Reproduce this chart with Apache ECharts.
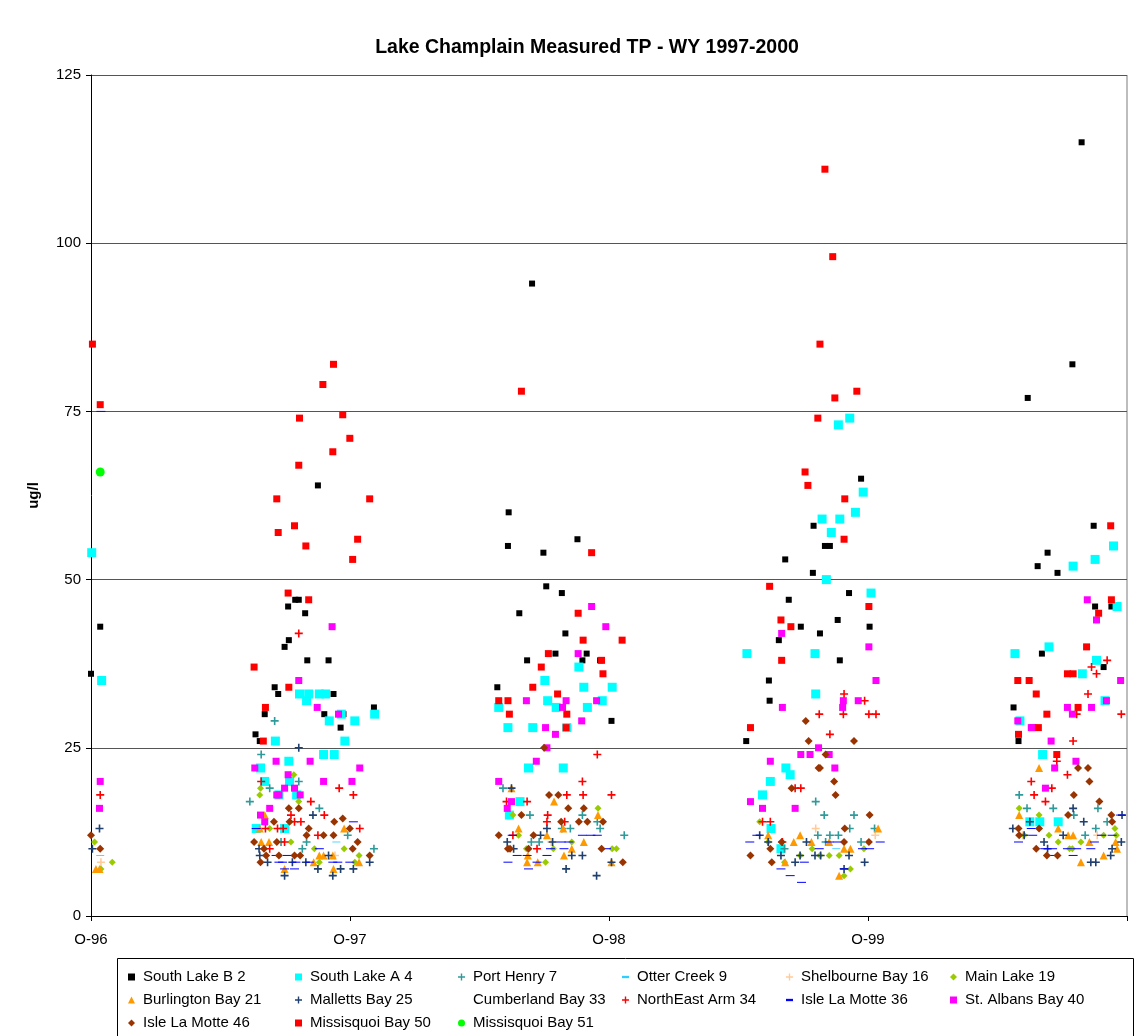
<!DOCTYPE html>
<html>
<head>
<meta charset="utf-8">
<script src="https://cdn.jsdelivr.net/npm/echarts@6/dist/echarts.min.js"></script>
<style>
  html, body { margin: 0; padding: 0; background: #fff; }
  #chart { width: 1146px; height: 1036px; }
</style>
</head>
<body>
<div id="chart"></div>
<script>
// Total phosphorus (ug/l) by sampling date and station, water years 1997-2000
const yTicks = [0, 25, 50, 75, 100, 125];
const xTickLabels = ['O-96', 'O-97', 'O-98', 'O-99'];

const southLakeB2 = [
  ['1996-10-01', 36], ['1996-10-14', 43],
  ['1997-05-21', 27], ['1997-05-27', 26], ['1997-06-03', 30], ['1997-06-17', 34], ['1997-06-22', 33],
  ['1997-07-01', 40], ['1997-07-06', 46], ['1997-07-07', 41], ['1997-07-16', 47], ['1997-07-21', 47],
  ['1997-07-30', 45], ['1997-08-02', 38], ['1997-08-17', 64], ['1997-08-26', 30], ['1997-09-01', 38],
  ['1997-09-08', 33], ['1997-09-18', 28], ['1997-09-22', 30], ['1997-11-04', 31],
  ['1998-04-27', 34], ['1998-05-12', 55], ['1998-05-13', 60], ['1998-05-28', 45], ['1998-06-08', 38],
  ['1998-06-15', 94], ['1998-07-01', 54], ['1998-07-05', 49], ['1998-07-18', 39], ['1998-07-27', 48],
  ['1998-08-01', 42], ['1998-08-18', 56], ['1998-08-25', 38], ['1998-08-31', 39], ['1998-09-19', 38],
  ['1998-10-05', 29],
  ['1999-04-13', 26], ['1999-05-15', 35], ['1999-05-16', 32], ['1999-05-29', 41], ['1999-06-07', 53],
  ['1999-06-12', 47], ['1999-06-29', 43], ['1999-07-16', 51], ['1999-07-17', 58], ['1999-07-26', 42],
  ['1999-08-02', 55], ['1999-08-09', 55], ['1999-08-20', 44], ['1999-08-23', 38], ['1999-09-05', 48],
  ['1999-09-22', 65], ['1999-10-04', 43],
  ['2000-04-24', 31], ['2000-05-01', 26], ['2000-05-14', 77], ['2000-05-28', 52], ['2000-06-03', 39],
  ['2000-06-11', 54], ['2000-06-25', 51], ['2000-07-16', 82], ['2000-07-29', 115], ['2000-08-15', 58],
  ['2000-08-17', 46], ['2000-08-29', 37], ['2000-09-09', 46]
];

const southLakeA4 = [
  ['1996-10-02', 54], ['1996-10-16', 35],
  ['1997-05-22', 13], ['1997-05-28', 22], ['1997-06-03', 20], ['1997-06-18', 26], ['1997-06-23', 18],
  ['1997-07-01', 13], ['1997-07-07', 23], ['1997-07-08', 20], ['1997-07-18', 18], ['1997-07-22', 33],
  ['1997-08-01', 32], ['1997-08-04', 33], ['1997-08-19', 33], ['1997-08-25', 24], ['1997-08-28', 33],
  ['1997-09-02', 29], ['1997-09-09', 24], ['1997-09-19', 30], ['1997-09-24', 26], ['1997-10-08', 29],
  ['1997-11-05', 30],
  ['1998-04-29', 31], ['1998-05-12', 28], ['1998-05-14', 15], ['1998-05-29', 17], ['1998-06-10', 22],
  ['1998-06-16', 28], ['1998-07-03', 35], ['1998-07-07', 32], ['1998-07-19', 31], ['1998-07-29', 22],
  ['1998-08-03', 28], ['1998-08-20', 37], ['1998-08-27', 34], ['1998-09-01', 31], ['1998-09-22', 32],
  ['1998-10-06', 34],
  ['1999-04-14', 39], ['1999-05-06', 18], ['1999-05-17', 20], ['1999-05-18', 13], ['1999-06-01', 10],
  ['1999-06-08', 22], ['1999-06-14', 21], ['1999-07-19', 39], ['1999-07-20', 33], ['1999-07-29', 59],
  ['1999-08-04', 50], ['1999-08-11', 57], ['1999-08-21', 73], ['1999-08-23', 59], ['1999-09-06', 74],
  ['1999-09-14', 60], ['1999-09-25', 63], ['1999-10-06', 48],
  ['2000-04-26', 39], ['2000-05-03', 29], ['2000-05-17', 14], ['2000-05-31', 14], ['2000-06-04', 24],
  ['2000-06-13', 40], ['2000-06-26', 14], ['2000-07-17', 52], ['2000-07-30', 36], ['2000-08-17', 53],
  ['2000-08-19', 38], ['2000-08-31', 32], ['2000-09-12', 55], ['2000-09-17', 46]
];

const portHenry7 = [
  ['1997-05-13', 17], ['1997-05-29', 24], ['1997-06-10', 19], ['1997-06-17', 29], ['1997-06-26', 11],
  ['1997-07-21', 20], ['1997-07-26', 10], ['1997-08-01', 11], ['1997-08-19', 16], ['1997-09-28', 12],
  ['1997-11-04', 10],
  ['1998-05-05', 19], ['1998-06-12', 15], ['1998-06-14', 11], ['1998-06-25', 11], ['1998-07-27', 13],
  ['1998-08-08', 13], ['1998-08-25', 15], ['1998-09-15', 14], ['1998-09-19', 13], ['1998-10-23', 12],
  ['1999-06-06', 10], ['1999-07-20', 17], ['1999-07-23', 12], ['1999-08-01', 15], ['1999-08-03', 11],
  ['1999-08-09', 12], ['1999-08-21', 12], ['1999-09-06', 13], ['1999-09-12', 15], ['1999-09-22', 11],
  ['1999-10-11', 13],
  ['2000-05-02', 18], ['2000-05-13', 16], ['2000-06-19', 16], ['2000-07-18', 15], ['2000-08-03', 12],
  ['2000-08-18', 13], ['2000-08-21', 16], ['2000-09-03', 14]
];

const otterCreek9 = [
  ['1996-10-14', 9], ['1997-09-12', 11], ['1999-08-18', 10]
];

const shelbourneBay16 = [
  ['1996-10-15', 8], ['1997-09-10', 9], ['1998-07-12', 11], ['1999-07-20', 13], ['1999-10-12', 12],
  ['2000-05-07', 12], ['2000-08-20', 12]
];

const mainLake19 = [
  ['1996-10-06', 11], ['1996-10-15', 7], ['1996-10-31', 8],
  ['1997-05-27', 18], ['1997-05-28', 19], ['1997-06-10', 13], ['1997-07-10', 11], ['1997-07-14', 21],
  ['1997-07-21', 17], ['1997-08-12', 10], ['1997-08-19', 8], ['1997-09-23', 10], ['1997-10-08', 8],
  ['1997-10-14', 9],
  ['1998-05-19', 15], ['1998-05-27', 12], ['1998-06-07', 10], ['1998-07-04', 8], ['1998-07-15', 10],
  ['1998-08-10', 11], ['1998-09-16', 16], ['1998-10-06', 10], ['1998-10-12', 10],
  ['1999-05-02', 14], ['1999-05-14', 11], ['1999-06-06', 8], ['1999-06-28', 9], ['1999-07-15', 10],
  ['1999-07-26', 9], ['1999-08-08', 9], ['1999-08-22', 9], ['1999-08-29', 6], ['1999-09-07', 7],
  ['1999-09-26', 10],
  ['2000-05-02', 16], ['2000-05-09', 12], ['2000-05-30', 15], ['2000-06-13', 12], ['2000-06-26', 11],
  ['2000-07-12', 10], ['2000-07-16', 10], ['2000-07-28', 11], ['2000-08-29', 12], ['2000-09-14', 13],
  ['2000-09-16', 12]
];

const burlingtonBay21 = [
  ['1996-10-08', 7], ['1996-10-13', 7],
  ['1997-05-27', 13], ['1997-05-29', 11], ['1997-06-03', 15], ['1997-06-09', 11], ['1997-07-01', 7],
  ['1997-08-11', 8], ['1997-08-19', 9], ['1997-08-25', 9], ['1997-09-07', 9], ['1997-09-08', 7],
  ['1997-09-23', 13], ['1997-10-14', 8],
  ['1998-05-17', 19], ['1998-05-27', 13], ['1998-06-08', 8], ['1998-06-09', 9], ['1998-06-23', 8],
  ['1998-07-06', 12], ['1998-07-16', 17], ['1998-07-29', 13], ['1998-07-30', 9], ['1998-08-10', 10],
  ['1998-08-27', 11], ['1998-09-16', 15], ['1998-10-05', 8],
  ['1999-05-14', 12], ['1999-06-07', 8], ['1999-06-19', 11], ['1999-06-28', 12], ['1999-07-14', 11],
  ['1999-08-08', 11], ['1999-08-22', 6], ['1999-08-29', 10], ['1999-09-07', 10], ['1999-10-16', 13],
  ['2000-05-02', 15], ['2000-05-30', 22], ['2000-06-26', 13], ['2000-07-10', 12], ['2000-07-17', 12],
  ['2000-07-28', 8], ['2000-08-09', 11], ['2000-08-29', 9], ['2000-09-15', 11], ['2000-09-17', 10]
];

const mallettsBay25 = [
  ['1996-10-03', 10], ['1996-10-13', 13],
  ['1997-05-26', 10], ['1997-05-27', 9], ['1997-06-07', 8], ['1997-07-01', 6], ['1997-07-12', 8],
  ['1997-07-21', 25], ['1997-07-31', 8], ['1997-08-10', 15], ['1997-08-17', 7], ['1997-09-01', 9],
  ['1997-09-07', 6], ['1997-09-18', 7], ['1997-10-06', 7], ['1997-10-29', 8],
  ['1998-05-11', 11], ['1998-05-17', 19], ['1998-05-20', 10], ['1998-06-27', 12], ['1998-07-06', 13],
  ['1998-07-14', 11], ['1998-08-02', 7], ['1998-08-10', 9], ['1998-08-25', 9], ['1998-09-14', 6],
  ['1998-10-05', 8],
  ['1999-05-02', 12], ['1999-05-14', 11], ['1999-06-01', 9], ['1999-06-21', 8], ['1999-06-28', 9],
  ['1999-07-07', 11], ['1999-07-19', 9], ['1999-07-27', 9], ['1999-08-29', 7], ['1999-09-05', 9],
  ['1999-09-27', 8],
  ['2000-04-23', 13], ['2000-05-09', 12], ['2000-05-17', 14], ['2000-06-06', 11], ['2000-06-11', 10],
  ['2000-07-03', 12], ['2000-07-17', 16], ['2000-08-01', 14], ['2000-08-11', 8], ['2000-08-18', 8],
  ['2000-09-08', 9], ['2000-09-10', 10], ['2000-09-23', 11], ['2000-09-24', 15]
];

const cumberlandBay33 = [];

const northEastArm34 = [
  ['1996-10-14', 18],
  ['1997-05-29', 20], ['1997-06-04', 13], ['1997-06-10', 10], ['1997-06-21', 13], ['1997-06-29', 13],
  ['1997-07-01', 11], ['1997-07-10', 15], ['1997-07-15', 14], ['1997-07-21', 42], ['1997-07-24', 14],
  ['1997-08-07', 17], ['1997-08-17', 12], ['1997-08-26', 15], ['1997-09-16', 19], ['1997-10-06', 18],
  ['1997-10-15', 13],
  ['1998-05-10', 17], ['1998-05-19', 12], ['1998-06-08', 17], ['1998-06-22', 10], ['1998-07-06', 14],
  ['1998-07-07', 15], ['1998-07-31', 14], ['1998-08-03', 18], ['1998-08-25', 20], ['1998-08-26', 18],
  ['1998-09-15', 24], ['1998-10-05', 18],
  ['1999-05-06', 14], ['1999-05-17', 14], ['1999-06-03', 11], ['1999-06-21', 19], ['1999-06-29', 19],
  ['1999-07-25', 30], ['1999-08-09', 27], ['1999-08-28', 30], ['1999-08-29', 33], ['1999-09-27', 32],
  ['1999-10-03', 30], ['1999-10-13', 30],
  ['2000-05-19', 20], ['2000-05-23', 18], ['2000-06-08', 17], ['2000-06-17', 19], ['2000-06-24', 23],
  ['2000-07-09', 21], ['2000-07-17', 26], ['2000-07-22', 30], ['2000-08-07', 33], ['2000-08-12', 37],
  ['2000-08-19', 36], ['2000-09-03', 38], ['2000-09-23', 30]
];

const isleLaMotte36 = [
  ['1996-10-15', 75],
  ['1997-05-22', 13], ['1997-06-19', 9], ['1997-06-23', 8], ['1997-06-28', 8], ['1997-07-01', 7],
  ['1997-07-05', 9], ['1997-07-15', 7], ['1997-07-17', 8], ['1997-08-05', 8], ['1997-08-19', 10],
  ['1997-09-07', 8], ['1997-09-14', 8], ['1997-10-01', 8], ['1997-10-06', 14],
  ['1998-05-12', 8], ['1998-05-18', 12], ['1998-05-25', 9], ['1998-06-08', 9], ['1998-06-10', 7],
  ['1998-06-22', 8], ['1998-07-06', 9], ['1998-07-11', 10], ['1998-07-26', 11], ['1998-07-30', 10],
  ['1998-08-06', 11], ['1998-08-25', 12], ['1998-09-06', 12], ['1998-09-15', 12], ['1998-09-28', 10],
  ['1999-04-18', 11], ['1999-04-28', 12], ['1999-06-01', 7], ['1999-06-14', 6], ['1999-06-30', 5],
  ['1999-07-04', 8], ['1999-07-25', 10], ['1999-08-08', 11], ['1999-08-20', 11], ['1999-08-29', 7],
  ['1999-09-24', 10], ['1999-10-04', 10], ['1999-10-19', 11],
  ['2000-05-01', 11], ['2000-05-19', 13], ['2000-05-21', 12], ['2000-06-07', 10], ['2000-06-15', 9],
  ['2000-06-18', 10], ['2000-07-09', 10], ['2000-07-17', 9], ['2000-07-22', 10], ['2000-08-11', 10],
  ['2000-08-16', 11], ['2000-08-26', 12], ['2000-09-10', 12], ['2000-09-22', 15]
];

const stAlbansBay40 = [
  ['1996-10-13', 16], ['1996-10-14', 20],
  ['1997-05-20', 22], ['1997-05-28', 15], ['1997-06-03', 14], ['1997-06-10', 16], ['1997-06-19', 23],
  ['1997-06-20', 18], ['1997-06-23', 18], ['1997-07-01', 19], ['1997-07-06', 21], ['1997-07-15', 19],
  ['1997-07-21', 35], ['1997-07-23', 18], ['1997-08-06', 23], ['1997-08-16', 31], ['1997-08-25', 20],
  ['1997-09-06', 43], ['1997-09-15', 30], ['1997-10-04', 20], ['1997-10-15', 22],
  ['1998-04-29', 20], ['1998-05-11', 16], ['1998-05-17', 17], ['1998-06-07', 32], ['1998-06-21', 23],
  ['1998-07-04', 28], ['1998-07-06', 25], ['1998-07-18', 27], ['1998-07-28', 31], ['1998-08-02', 32],
  ['1998-08-19', 39], ['1998-08-24', 29], ['1998-09-07', 46], ['1998-09-14', 32], ['1998-09-27', 43],
  ['1999-04-19', 17], ['1999-05-06', 16], ['1999-05-17', 23], ['1999-06-02', 42], ['1999-06-03', 31],
  ['1999-06-21', 16], ['1999-06-29', 24], ['1999-07-12', 24], ['1999-07-24', 25], ['1999-08-08', 24],
  ['1999-08-16', 22], ['1999-08-27', 31], ['1999-08-28', 32], ['1999-09-18', 32], ['1999-10-03', 40],
  ['1999-10-13', 35],
  ['2000-04-30', 29], ['2000-05-19', 28], ['2000-05-21', 28], ['2000-06-08', 19], ['2000-06-16', 26],
  ['2000-06-21', 22], ['2000-07-09', 31], ['2000-07-16', 30], ['2000-07-21', 23], ['2000-08-06', 47],
  ['2000-08-12', 31], ['2000-08-19', 44], ['2000-09-02', 32], ['2000-09-22', 35]
];

const isleLaMotte46 = [
  ['1996-10-01', 12], ['1996-10-14', 10],
  ['1997-05-19', 11], ['1997-05-28', 8], ['1997-06-02', 10], ['1997-06-05', 9], ['1997-06-16', 14],
  ['1997-06-20', 11], ['1997-06-23', 9], ['1997-07-07', 16], ['1997-07-08', 14], ['1997-07-15', 9],
  ['1997-07-21', 16], ['1997-07-23', 9], ['1997-08-01', 12], ['1997-08-04', 13], ['1997-08-25', 12],
  ['1997-09-08', 12], ['1997-09-09', 14], ['1997-09-21', 14.5], ['1997-10-01', 13], ['1997-10-05', 10],
  ['1997-10-12', 11], ['1997-10-29', 9],
  ['1998-04-29', 12], ['1998-05-12', 10], ['1998-05-15', 10], ['1998-05-31', 15], ['1998-06-10', 10],
  ['1998-06-17', 12], ['1998-07-02', 25], ['1998-07-09', 18], ['1998-07-22', 18], ['1998-07-26', 14],
  ['1998-08-05', 16], ['1998-08-20', 14], ['1998-08-27', 16], ['1998-09-01', 14], ['1998-09-21', 10],
  ['1998-09-23', 14], ['1998-10-21', 8],
  ['1999-04-19', 9], ['1999-05-17', 10], ['1999-05-19', 8], ['1999-06-02', 11], ['1999-06-16', 19],
  ['1999-07-06', 29], ['1999-07-10', 26], ['1999-07-24', 22], ['1999-07-26', 22], ['1999-08-03', 24],
  ['1999-08-15', 20], ['1999-08-17', 18], ['1999-08-29', 11], ['1999-08-30', 13], ['1999-09-12', 26],
  ['1999-10-03', 11], ['1999-10-04', 15],
  ['2000-05-01', 13], ['2000-05-02', 12], ['2000-05-26', 10], ['2000-05-30', 13], ['2000-06-10', 9],
  ['2000-06-25', 9], ['2000-07-10', 15], ['2000-07-18', 18], ['2000-07-24', 22], ['2000-08-07', 22],
  ['2000-08-09', 20], ['2000-08-23', 17], ['2000-09-09', 15], ['2000-09-10', 14]
];

const missisquoiBay50 = [
  ['1996-10-03', 85], ['1996-10-14', 76],
  ['1997-05-19', 37], ['1997-06-01', 26], ['1997-06-04', 31], ['1997-06-20', 62], ['1997-06-22', 57],
  ['1997-07-06', 48], ['1997-07-07', 34], ['1997-07-15', 58], ['1997-07-21', 67], ['1997-07-22', 74],
  ['1997-07-31', 55], ['1997-08-04', 47], ['1997-08-24', 79], ['1997-09-07', 69], ['1997-09-08', 82],
  ['1997-09-21', 74.5], ['1997-10-01', 71], ['1997-10-05', 53], ['1997-10-12', 56], ['1997-10-29', 62],
  ['1998-04-29', 32], ['1998-05-12', 32], ['1998-05-14', 30], ['1998-05-31', 78], ['1998-06-16', 34],
  ['1998-06-28', 37], ['1998-07-08', 39], ['1998-07-21', 33], ['1998-08-02', 28], ['1998-08-03', 30],
  ['1998-08-19', 45], ['1998-08-26', 41], ['1998-09-07', 54], ['1998-09-21', 38], ['1998-09-23', 36],
  ['1998-10-20', 41],
  ['1999-04-19', 28], ['1999-05-16', 49], ['1999-06-01', 44], ['1999-06-02', 38], ['1999-06-15', 43],
  ['1999-07-05', 66], ['1999-07-09', 64], ['1999-07-23', 74], ['1999-07-26', 85], ['1999-08-02', 111],
  ['1999-08-13', 98], ['1999-08-16', 77], ['1999-08-29', 56], ['1999-08-30', 62], ['1999-09-16', 78],
  ['1999-10-03', 46],
  ['2000-04-30', 35], ['2000-05-01', 27], ['2000-05-16', 35], ['2000-05-26', 33], ['2000-05-29', 28],
  ['2000-06-10', 30], ['2000-06-24', 24], ['2000-07-09', 36], ['2000-07-17', 36], ['2000-07-24', 31],
  ['2000-08-05', 40], ['2000-08-22', 45], ['2000-09-08', 58], ['2000-09-09', 47]
];

const missisquoiBay51 = [
  ['1996-10-14', 66]
];

// ---- helpers ----
const ORIGIN = Date.UTC(1996, 9, 1);
const YEAR_DAYS = 365.25;
function dayOf(s) {
  const p = s.split('-').map(Number);
  return (Date.UTC(p[0], p[1] - 1, p[2]) - ORIGIN) / 86400000;
}
function toPoints(rows) { return rows.map(r => [dayOf(r[0]), r[1]]); }

const PLUS = 'path://M3.2,0H4.8V3.2H8V4.8H4.8V8H3.2V4.8H0V3.2H3.2Z';
const DASH = 'path://M0,0H9V3H0Z';

function scatter(name, rows, symbol, size, color, keep) {
  return {
    name: name,
    type: 'scatter',
    data: toPoints(rows),
    symbol: symbol,
    symbolSize: size,
    symbolKeepAspect: !!keep,
    itemStyle: { color: color, opacity: 1 },
    emphasis: { disabled: true },
    animation: false
  };
}

const series = [
  scatter('South Lake B 2', southLakeB2, 'rect', 6, '#000000'),
  scatter('South Lake A 4', southLakeA4, 'rect', 9, '#00FFFF'),
  scatter('Port Henry 7', portHenry7, PLUS, 8, '#2F9A9A', true),
  scatter('Otter Creek 9', otterCreek9, DASH, [8, 2.5], '#33CCFF', true),
  scatter('Shelbourne Bay 16', shelbourneBay16, PLUS, 8, '#FFCC99', true),
  scatter('Main Lake 19', mainLake19, 'diamond', 7, '#99CC00'),
  scatter('Burlington Bay 21', burlingtonBay21, 'triangle', 8, '#FF9900'),
  scatter('Malletts Bay 25', mallettsBay25, PLUS, 8, '#1F3F6E', true),
  scatter('Cumberland Bay 33', cumberlandBay33, 'rect', 6, 'rgba(0,0,0,0)'),
  scatter('NorthEast Arm 34', northEastArm34, PLUS, 8, '#FF0000', true),
  scatter('Isle La Motte 36', isleLaMotte36, DASH, [9, 3], '#0000FF', true),
  scatter('St. Albans Bay 40', stAlbansBay40, 'rect', 7, '#FF00FF'),
  scatter('Isle La Motte 46', isleLaMotte46, 'diamond', 8, '#993300'),
  scatter('Missisquoi Bay 50', missisquoiBay50, 'rect', 7, '#FF0000'),
  scatter('Missisquoi Bay 51', missisquoiBay51, 'circle', 9, '#00FF00')
];

// legend laid out as six columns
const legendColumns = [
  ['South Lake B 2', 'Burlington Bay 21', 'Isle La Motte 46'],
  ['South Lake A 4', 'Malletts Bay 25', 'Missisquoi Bay 50'],
  ['Port Henry 7', 'Cumberland Bay 33', 'Missisquoi Bay 51'],
  ['Otter Creek 9', 'NorthEast Arm 34'],
  ['Shelbourne Bay 16', 'Isle La Motte 36'],
  ['Main Lake 19', 'St. Albans Bay 40']
];
const legendLeft = [128, 295, 458, 622, 786, 950];
const FONT = '"Liberation Sans", Arial, sans-serif';

const legends = legendColumns.map((col, i) => ({
  data: col,
  orient: 'vertical',
  left: legendLeft[i],
  top: 969,
  itemWidth: 7,
  itemHeight: 7,
  itemGap: 7,
  padding: 0,
  selectedMode: false,
  textStyle: { fontFamily: FONT, fontSize: 15, color: '#000', lineHeight: 16, padding: [0, 0, 0, 3] }
}));

const chart = echarts.init(document.getElementById('chart'), null, { renderer: 'canvas' });
chart.setOption({
  animation: false,
  backgroundColor: '#ffffff',
  title: {
    text: 'Lake Champlain Measured TP - WY 1997-2000',
    left: 582,
    textAlign: 'center',
    top: 33,
    textStyle: { fontFamily: FONT, fontSize: 19.5, fontWeight: 'bold', color: '#000' }
  },
  grid: { left: 91, right: 19, top: 75, bottom: 120, containLabel: false },
  legend: legends,
  xAxis: {
    type: 'value',
    min: 0,
    max: 4 * YEAR_DAYS,
    interval: YEAR_DAYS,
    axisLine: { show: true, onZero: false, lineStyle: { color: '#000', width: 1 } },
    axisTick: { show: true, length: 5, lineStyle: { color: '#000' } },
    splitLine: { show: false },
    axisLabel: {
      margin: 16,
      fontFamily: FONT, fontSize: 15, color: '#000',
      formatter: v => {
        const k = Math.round(v / YEAR_DAYS);
        return k < xTickLabels.length ? xTickLabels[k] : '';
      }
    }
  },
  yAxis: {
    type: 'value',
    min: yTicks[0],
    max: yTicks[yTicks.length - 1],
    interval: 25,
    name: 'ug/l',
    nameLocation: 'middle',
    nameGap: 50,
    nameRotate: 90,
    nameTextStyle: { fontFamily: FONT, fontSize: 15, fontWeight: 'bold', color: '#000' },
    axisLine: { show: true, lineStyle: { color: '#000', width: 1 } },
    axisTick: { show: true, length: 5, lineStyle: { color: '#000' } },
    splitLine: { show: true, lineStyle: { color: '#555', width: 1 } },
    axisLabel: { margin: 10, fontFamily: FONT, fontSize: 15, color: '#000' }
  },
  graphic: [
    {
      type: 'line',
      shape: { x1: 1127, y1: 75, x2: 1127, y2: 916 },
      style: { stroke: '#bdbdbd', lineWidth: 2 },
      silent: true
    },
    {
      type: 'rect',
      shape: { x: 117.5, y: 958.5, width: 1016, height: 90 },
      style: { fill: 'none', stroke: '#000', lineWidth: 1 },
      silent: true
    }
  ],
  series: series
});
</script>
</body>
</html>
